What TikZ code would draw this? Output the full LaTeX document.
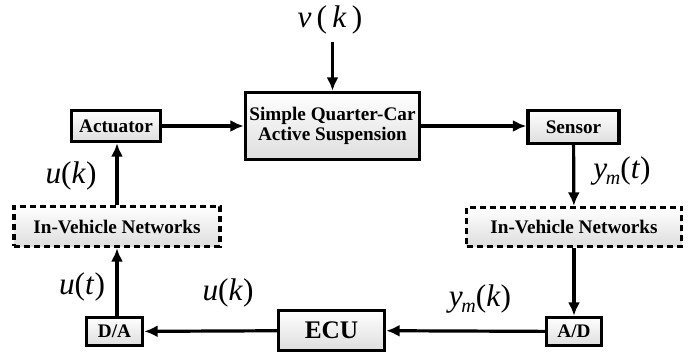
\documentclass[tikz,border=0pt]{standalone}
\usepackage{fontspec}
\setmainfont{Liberation Serif}
\usetikzlibrary{arrows.meta}
\tikzset{
  blk/.style={draw, line width=2.6pt, top color=white, bottom color=black!13,
    inner sep=0pt, align=center, font=\fontsize{14.4}{15.5}\selectfont\bfseries},
  netbox/.style={blk, dash pattern=on 4.5pt off 3pt},
  sig/.style={line width=2.4pt, -{Latex[length=10pt,width=9pt]}},
  lbl/.style={font=\fontsize{23.5}{26}\selectfont}
}
\newcommand{\sgl}[2]{\textit{#1}(\textit{#2})}
\newcommand{\ysub}[1]{\textit{y}\kern-1pt\raisebox{-0.45ex}{\fontsize{15}{15}\selectfont\textit{m}}(\textit{#1})}
\begin{document}
\begin{tikzpicture}[x=0.75pt,y=-0.75pt]
        \useasboundingbox (0,0) rectangle (694,356);
        % Blocks of the loop
        \node[blk, minimum width=66.75pt, minimum height=23.25pt] (act) at (116,126) {Actuator};
        \node[blk, minimum width=130.5pt, minimum height=50.25pt] (plant) at (332.5,126) {Simple Quarter-Car\\Active Suspension};
        \node[blk, minimum width=68.25pt, minimum height=24.75pt] (sens) at (573.5,127) {Sensor};
        \node[netbox, minimum width=154.5pt, minimum height=30pt] (netL) at (117,226.5) {In-Vehicle Networks};
        \node[netbox, minimum width=161.25pt, minimum height=29.25pt] (netR) at (574,227) {In-Vehicle Networks};
        \node[blk, minimum width=42pt, minimum height=21pt] (da) at (114.5,331.5) {D/A};
        \node[blk, minimum width=79.5pt, minimum height=30pt, font=\fontsize{19}{21}\selectfont\bfseries] (ecu) at (331.5,330.5) {ECU};
        \node[blk, minimum width=41.25pt, minimum height=21pt] (ad) at (574,331.5) {A/D};
        % Signal labels
        \node[lbl] (vk) at (330,20) {\textit{v}\,(\,\textit{k}\,)};
        \coordinate (vin) at (332.5,42);
        \node[lbl] (uk1) at (71,176) {\sgl{u}{k}};
        \node[lbl] (ymt) at (622,171) {\ysub{t}};
        \node[lbl] (ut) at (82,287) {\sgl{u}{t}};
        \node[lbl] (uk2) at (228,293) {\sgl{u}{k}};
        \node[lbl] (ymk) at (480,299) {\ysub{k}};
        % Connections
        \draw[sig] (vin) -- (plant);
        \draw[sig] (act) -- (plant);
        \draw[sig] (plant.east |- act) -- (sens.west |- act);
        \draw[sig] (sens) -- (netR);
        \draw[sig] (netR) -- (ad);
        \draw[sig] (ad) -- (ecu);
        \draw[sig] (ecu) -- (da);
        \draw[sig] (da.north -| netL) -- (netL);
        \draw[sig] (netL) -- (act.south -| netL);
    \end{tikzpicture}
\end{document}
